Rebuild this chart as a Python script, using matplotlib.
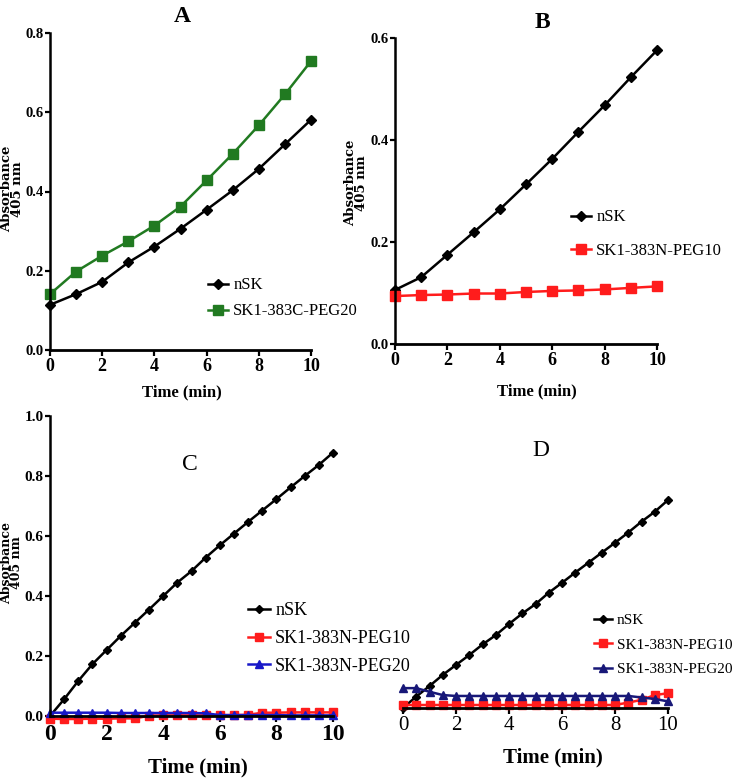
import matplotlib
matplotlib.use("Agg")
import matplotlib.pyplot as plt

# -----------------------
# Data
# -----------------------
t_ab = [0, 1, 2, 3, 4, 5, 6, 7, 8, 9, 10]
t_cd = [0, 0.5, 1, 1.5, 2, 2.5, 3, 3.5, 4, 4.5, 5, 5.5, 6, 6.5, 7, 7.5, 8, 8.5, 9, 9.5, 10]

a_nsk = [0.114, 0.141, 0.172, 0.221, 0.261, 0.306, 0.354, 0.403, 0.457, 0.519, 0.581]
a_peg20 = [0.141, 0.198, 0.238, 0.274, 0.314, 0.362, 0.428, 0.495, 0.567, 0.645, 0.729]

b_nsk = [0.106, 0.131, 0.175, 0.219, 0.264, 0.313, 0.363, 0.416, 0.468, 0.523, 0.576]
b_peg10 = [0.094, 0.096, 0.097, 0.099, 0.099, 0.102, 0.104, 0.105, 0.107, 0.110, 0.113]

c_nsk = [0.0, 0.056, 0.117, 0.173, 0.220, 0.267, 0.311, 0.355, 0.400, 0.445, 0.483,
         0.528, 0.569, 0.608, 0.647, 0.685, 0.723, 0.762, 0.800, 0.837, 0.878]
c_peg10 = [-0.009, -0.010, -0.010, -0.009, -0.009, -0.008, -0.008, 0.001, 0.002, 0.002, 0.002,
           0.002, 0.003, 0.003, 0.004, 0.011, 0.011, 0.012, 0.012, 0.012, 0.012]
c_peg20 = [0.011, 0.011, 0.011, 0.011, 0.011, 0.010, 0.010, 0.010, 0.010, 0.010, 0.010,
           0.009, 0.003, 0.003, 0.003, 0.003, 0.003, 0.002, 0.002, 0.002, 0.002]

d_nsk = [0.0, 0.038, 0.073, 0.110, 0.143, 0.176, 0.211, 0.242, 0.279, 0.314, 0.345,
         0.383, 0.416, 0.450, 0.483, 0.516, 0.549, 0.583, 0.619, 0.652, 0.691]
d_peg10 = [0.010, 0.010, 0.010, 0.010, 0.010, 0.010, 0.010, 0.010, 0.010, 0.010, 0.010,
           0.010, 0.010, 0.010, 0.010, 0.010, 0.010, 0.018, 0.027, 0.043, 0.049]
d_peg20 = [0.066, 0.066, 0.054, 0.043, 0.040, 0.040, 0.040, 0.040, 0.040, 0.040, 0.040,
           0.040, 0.040, 0.040, 0.040, 0.040, 0.040, 0.040, 0.035, 0.030, 0.022]

W, H = 740, 781
SERIF = "Liberation Serif"
LBL = "DejaVu Serif"

fig = plt.figure(figsize=(W / 100, H / 100), dpi=100)


def px_axes(left, right, top, bottom):
    ax = fig.add_axes([left / W, 1 - bottom / H, (right - left) / W, (bottom - top) / H])
    ax.patch.set_visible(False)
    return ax


def style(ax, tick_size, weight="bold", show_y=True):
    for s in ["top", "right"]:
        ax.spines[s].set_visible(False)
    ax.spines["bottom"].set_linewidth(2)
    ax.spines["left"].set_linewidth(1.8)
    ax.tick_params(width=1.6, length=4, pad=1.5, labelsize=tick_size)
    ax.tick_params(axis="y", length=3.5, pad=1)
    for lab in ax.get_xticklabels() + ax.get_yticklabels():
        lab.set_fontfamily(SERIF)
        lab.set_fontweight(weight)
    if not show_y:
        ax.spines["left"].set_visible(False)
        ax.tick_params(axis="y", left=False, labelleft=False)


def series(ax, x, y, color, marker, ms):
    return ax.plot(x, y, color=color, lw=1.8, marker=marker, ms=ms, clip_on=False)[0]


def legend(ax, handles, labels, x, y, size, spacing):
    ax.legend(handles, labels, loc="upper left", bbox_to_anchor=(x / W, 1 - y / H),
              bbox_transform=fig.transFigure, frameon=False, borderpad=0,
              handlelength=1.2, handletextpad=0.3, labelspacing=spacing,
              prop={"family": SERIF, "size": size})


def ylabel(x, y, size):
    fig.text(x / W, 1 - y / H, "Absorbance\n405 nm", rotation=90, ha="center", va="center",
             family=LBL, weight="bold", fontsize=size, linespacing=0.75)


GREEN = "#217a21"
RED = "#ff1c1c"
BLUE = "#1818c8"
NAVY = "#181878"

# ---- A
ax = px_axes(50, 311, 33, 350)
h1 = series(ax, t_ab, a_nsk, "black", "D", 5)
h2 = series(ax, t_ab, a_peg20, GREEN, "s", 6.5)
ax.set_xlim(0, 10)
ax.set_ylim(0, 0.8)
ax.set_xticks([0, 2, 4, 6, 8, 10])
ax.set_yticks([0, 0.2, 0.4, 0.6, 0.8])
ax.yaxis.set_major_formatter(plt.FormatStrFormatter("%.1f"))
style(ax, 10.5)
ax.tick_params(axis="x", labelsize=13)
legend(ax, [h1, h2], ["nSK", "SK1-383C-PEG20"], 200, 269, 12, 0.6)
fig.text(182 / W, 1 - 16 / H, "A", ha="center", va="center", family=SERIF, weight="bold", fontsize=17)
fig.text(182 / W, 1 - 392 / H, "Time (min)", ha="center", va="center", family=SERIF, weight="bold", fontsize=12)
ylabel(12, 189, 9.5)

# ---- B
ax = px_axes(395, 657, 38, 344)
h1 = series(ax, t_ab, b_nsk, "black", "D", 5)
h2 = series(ax, t_ab, b_peg10, RED, "s", 6.5)
ax.set_xlim(0, 10)
ax.set_ylim(0, 0.6)
ax.set_xticks([0, 2, 4, 6, 8, 10])
ax.set_yticks([0, 0.2, 0.4, 0.6])
ax.yaxis.set_major_formatter(plt.FormatStrFormatter("%.1f"))
style(ax, 10.5)
ax.tick_params(axis="x", labelsize=13)
legend(ax, [h1, h2], ["nSK", "SK1-383N-PEG10"], 563, 201, 12, 1.05)
fig.text(542 / W, 1 - 22 / H, "B", ha="center", va="center", family=SERIF, weight="bold", fontsize=17)
fig.text(537 / W, 1 - 391 / H, "Time (min)", ha="center", va="center", family=SERIF, weight="bold", fontsize=12)
ylabel(356, 183, 9.5)

# ---- C
ax = px_axes(50, 333, 416, 716)
h1 = series(ax, t_cd, c_nsk, "black", "D", 4.5)
h2 = series(ax, t_cd, c_peg10, RED, "s", 5.5)
h3 = series(ax, t_cd, c_peg20, BLUE, "^", 5.5)
ax.set_xlim(0, 10)
ax.set_ylim(0, 1.0)
ax.set_xticks([0, 2, 4, 6, 8, 10])
ax.set_yticks([0, 0.2, 0.4, 0.6, 0.8, 1.0])
ax.yaxis.set_major_formatter(plt.FormatStrFormatter("%.1f"))
style(ax, 11)
ax.tick_params(axis="x", labelsize=17)
legend(ax, [h1, h2, h3], ["nSK", "SK1-383N-PEG10", "SK1-383N-PEG20"], 239, 593, 13, 0.6)
fig.text(190 / W, 1 - 465 / H, "C", ha="center", va="center", family=SERIF, fontsize=17)
fig.text(198 / W, 1 - 767 / H, "Time (min)", ha="center", va="center", family=SERIF, weight="bold", fontsize=15)
ylabel(11.5, 563, 9)

# ---- D
ax = px_axes(403, 668, 407, 708)
h1 = series(ax, t_cd, d_nsk, "black", "D", 4.5)
h2 = series(ax, t_cd, d_peg10, RED, "s", 5.5)
h3 = series(ax, t_cd, d_peg20, NAVY, "^", 5.5)
ax.set_xlim(0, 10)
ax.set_ylim(0, 1.0)
ax.set_xticks([0, 2, 4, 6, 8, 10])
style(ax, 15, weight="normal", show_y=False)
legend(ax, [h1, h2, h3], ["nSK", "SK1-383N-PEG10", "SK1-383N-PEG20"], 586, 606, 11, 0.7)
fig.text(541 / W, 1 - 450 / H, "D", ha="center", va="center", family=SERIF, fontsize=17)
fig.text(553 / W, 1 - 757 / H, "Time (min)", ha="center", va="center", family=SERIF, weight="bold", fontsize=15)

fig.savefig("out.png", dpi=100)
